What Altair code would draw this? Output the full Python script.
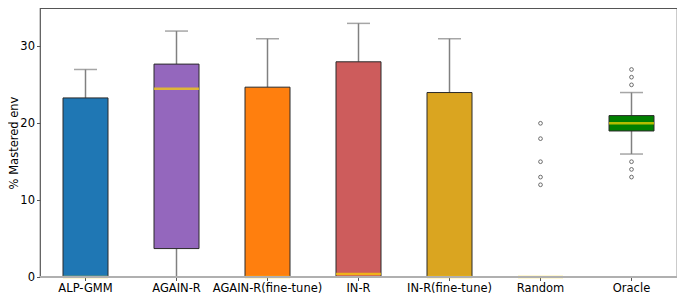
import altair as alt
import pandas as pd

methods = ["ALP-GMM", "AGAIN-R", "AGAIN-R(fine-tune)", "IN-R", "IN-R(fine-tune)", "Random", "Oracle"]
colors = ["#1f77b4", "#9467bd", "#ff7f0e", "#cd5c5c", "#daa520", "#808080", "#008000"]
q1 = [0, 3.7, 0, 0, 0, 0, 19]
q3 = [23.3, 27.7, 24.7, 28, 24, 0, 21]
median = [0, 24.5, 0, 0.4, 0, 0, 20]
whisker_lo = [0, 0, 0, 0, 0, 0, 16]
whisker_hi = [27, 32, 31, 33, 31, 0, 24]
outlier_method = ["Random"] * 5 + ["Oracle"] * 6
outlier_value = [12, 13, 15, 18, 20, 13, 14, 15, 25, 26, 27]

df = pd.DataFrame({"method": methods, "q1": q1, "q3": q3, "median": median,
                   "lo": whisker_lo, "hi": whisker_hi})
out_df = pd.DataFrame({"method": outlier_method, "value": outlier_value})

FONT = "DejaVu Sans"
xenc = alt.X("method:N", sort=methods, title=None,
             scale=alt.Scale(domain=methods, paddingInner=0, paddingOuter=0),
             axis=alt.Axis(labelAngle=0, labelFontSize=11.5, labelColor="black",
                           tickSize=3.5, tickColor="#555", labelPadding=1.5, domain=False))
yscale = alt.Scale(domain=[0, 35], nice=False, zero=True)
yaxis = alt.Axis(values=[0, 10, 20, 30], grid=False, domain=False, tickSize=3.5,
                 tickColor="#555", labelFontSize=11.5, labelColor="black", labelPadding=2,
                 title="% Mastered env", titleFontSize=11.5, titleFontWeight="normal",
                 titleColor="black", titleAngle=270, titleBaseline="top",
                 titleX=-32, titleY=134.5, titleAlign="center")

base = alt.Chart(df).encode(x=xenc)

whisk_up = base.mark_rule(color="#808080", strokeWidth=1.5).encode(
    y=alt.Y("q3:Q", scale=yscale, axis=yaxis), y2="hi:Q")
whisk_dn = base.mark_rule(color="#808080", strokeWidth=1.5).encode(
    y=alt.Y("lo:Q", scale=yscale), y2="q1:Q")
cap_hi = base.mark_tick(color="#808080", size=23, thickness=1.5).encode(y=alt.Y("hi:Q", scale=yscale))
cap_lo = base.mark_tick(color="#808080", size=23, thickness=1.5).encode(y=alt.Y("lo:Q", scale=yscale))
boxes = base.mark_bar(size=45, stroke="#2a2a2a", strokeWidth=1).encode(
    y=alt.Y("q1:Q", scale=yscale), y2="q3:Q",
    color=alt.Color("method:N", scale=alt.Scale(domain=methods, range=colors), legend=None))
med = base.mark_tick(color="#FFD700", size=45, thickness=2.5).encode(y=alt.Y("median:Q", scale=yscale))
outl = alt.Chart(out_df).mark_point(shape="circle", filled=False, size=14, color="black",
                                    strokeWidth=0.8).encode(
    x=alt.X("method:N", sort=methods, scale=alt.Scale(domain=methods)),
    y=alt.Y("value:Q", scale=yscale))
bottom = alt.Chart(df).mark_rule(color="#b0b0b0", strokeWidth=1.5).encode(
    x=alt.value(0), x2=alt.value(637), y=alt.value(269))

chart = alt.layer(whisk_up, whisk_dn, cap_hi, cap_lo, boxes, med, outl, bottom).properties(
    width=637, height=269,
    autosize=alt.AutoSizeParams(type="none"),
    padding={"left": 32, "top": 0, "right": 0, "bottom": 24},
).configure(font=FONT).configure_view(stroke="#555", strokeWidth=1.2)

chart.save("out.html", embed_options={"renderer": "svg", "actions": False})
